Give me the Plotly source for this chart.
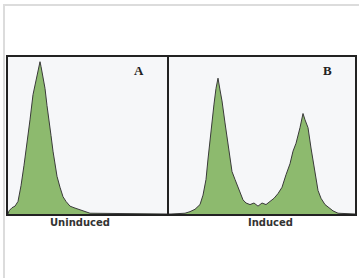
import plotly.graph_objects as go

# Histogram A (uninduced): channel positions and counts
a_channel = [0, 1, 4, 7, 10, 13, 16, 19, 22, 25, 28, 30, 32, 33, 35, 37, 39, 41, 43, 45, 47, 49, 52, 55, 58, 62, 66, 70, 74, 78, 82, 159]
a_count = [0, 2, 4, 5, 8, 18, 31, 44, 60, 76, 85, 90, 97, 94, 88, 80, 69, 61, 50, 40, 32, 24, 17, 11, 8, 5, 4, 3, 2, 1, 0.5, 0]

# Histogram B (induced): channel positions and counts
b_channel = [0, 2, 16, 21, 26, 31, 34, 37, 39, 41, 43, 45, 47, 49, 51, 53, 56, 59, 63, 66, 68, 71, 74, 77, 81, 85, 89, 93, 97, 101, 105, 109, 113, 117, 121, 124, 127, 131, 134, 136, 139, 142, 144, 147, 149, 152, 156, 160, 164, 169, 186]
b_count = [0, 0, 0.5, 1.5, 3, 6, 12, 22, 35, 48, 60, 70, 80, 86.5, 79, 72, 58, 44, 27, 22, 19, 14, 9, 7, 6, 7, 5, 7, 6, 8, 10, 13, 17, 25, 32, 40, 45, 55, 64, 60, 55, 42, 34, 24, 15, 10, 6, 4, 2, 0.5, 0]

panel_labels = ["A", "B"]
axis_titles = ["Uninduced", "Induced"]

fill_col = "#8dba6e"
edge_col = "#3a3a3a"

fig = go.Figure()
fig.add_trace(go.Scatter(x=a_channel, y=a_count, mode="lines", fill="tozeroy",
                         fillcolor=fill_col, line=dict(color=edge_col, width=1),
                         xaxis="x", yaxis="y", hoverinfo="skip"))
fig.add_trace(go.Scatter(x=b_channel, y=b_count, mode="lines", fill="tozeroy",
                         fillcolor=fill_col, line=dict(color=edge_col, width=1),
                         xaxis="x2", yaxis="y2", hoverinfo="skip"))

W, H = 359, 278
def px(x):
    return x / W
def py(y):
    return (H - y) / H

ydom = [py(214), py(57)]
ax_common = dict(showgrid=False, zeroline=False, showticklabels=False, ticks="",
                 showline=True, mirror=True, linecolor="#222222", linewidth=2)

fig.update_layout(
    width=W, height=H,
    margin=dict(l=0, r=0, t=0, b=0, pad=0),
    paper_bgcolor="white",
    plot_bgcolor="#f6f7f9",
    showlegend=False,
    xaxis=dict(domain=[px(8), px(167)], range=[0, 159], anchor="y", **ax_common),
    yaxis=dict(domain=ydom, range=[0, 100], anchor="x", **ax_common),
    xaxis2=dict(domain=[px(169), px(355)], range=[0, 186], anchor="y2", **ax_common),
    yaxis2=dict(domain=ydom, range=[0, 100], anchor="x2", **ax_common),
    shapes=[
        dict(type="rect", xref="paper", yref="paper", x0=px(3), x1=1, y0=py(6), y1=py(4),
             fillcolor="#dcdcdc", line=dict(width=0), layer="above"),
        dict(type="rect", xref="paper", yref="paper", x0=px(3), x1=px(5), y0=0, y1=py(4),
             fillcolor="#dcdcdc", line=dict(width=0), layer="above"),
    ],
    annotations=[
        dict(text="<b>" + panel_labels[0] + "</b>", x=px(139), y=py(71), xref="paper", yref="paper",
             showarrow=False, font=dict(family="Liberation Serif", size=13, color="#222"),
             xanchor="center", yanchor="middle"),
        dict(text="<b>" + panel_labels[1] + "</b>", x=px(327), y=py(70), xref="paper", yref="paper",
             showarrow=False, font=dict(family="Liberation Serif", size=13, color="#222"),
             xanchor="center", yanchor="middle"),
        dict(text="<b>" + axis_titles[0] + "</b>", x=px(80), y=py(222), xref="paper", yref="paper",
             showarrow=False, font=dict(family="DejaVu Sans", size=10, color="#333"),
             xanchor="center", yanchor="middle"),
        dict(text="<b>" + axis_titles[1] + "</b>", x=px(270), y=py(222), xref="paper", yref="paper",
             showarrow=False, font=dict(family="DejaVu Sans", size=10, color="#333"),
             xanchor="center", yanchor="middle"),
    ],
)

fig.write_html("out.html", config={"displayModeBar": False},
               post_script="document.body.style.margin='0';document.body.style.padding='0';")
